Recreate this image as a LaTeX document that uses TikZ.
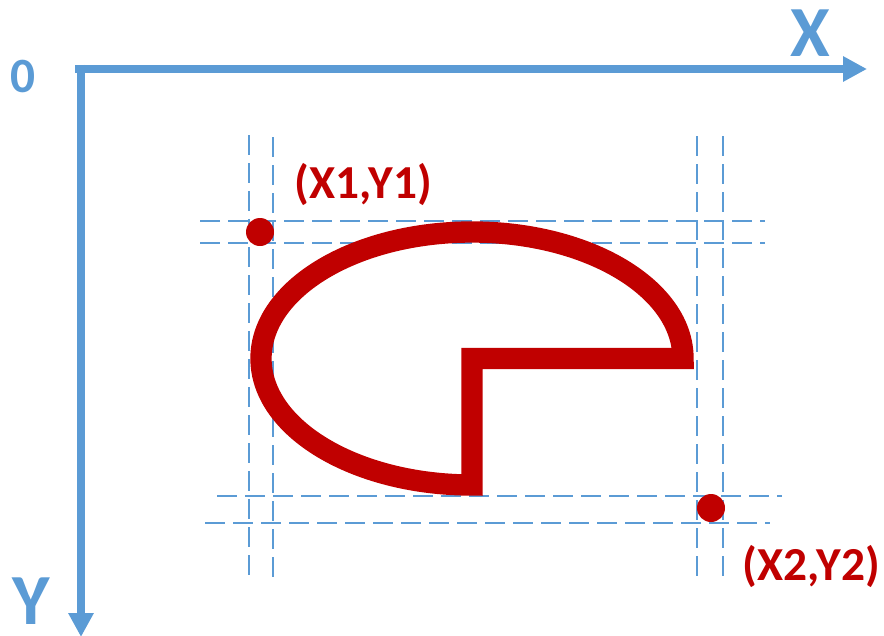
\documentclass[tikz,border=0pt]{standalone}
\usepackage{fontspec}
\setmainfont{Carlito}
\usetikzlibrary{arrows.meta}
\definecolor{axisblue}{HTML}{5B9BD5}
\definecolor{shapered}{HTML}{C00000}
\tikzset{
  axisline/.style={draw=axisblue, line width=6pt, -{Triangle[length=18pt,width=18pt]}},
  guide/.style={draw=axisblue, line width=2.1pt, dash pattern=on 15pt off 6pt},
  pieline/.style={draw=shapered, line width=16pt, miter limit=10, line join=miter},
  dotmark/.style={circle, fill=shapered, inner sep=0pt, minimum size=21pt},
  axislabel/.style={text=axisblue, inner sep=0pt, anchor=base, font=\fontsize{54}{60}\selectfont\bfseries},
  originlabel/.style={text=axisblue, inner sep=0pt, anchor=base, font=\fontsize{37}{42}\selectfont\bfseries},
  ptlabel/.style={text=shapered, inner sep=0pt, anchor=base, font=\fontsize{35.5}{40}\selectfont\bfseries}
}
\begin{document}
\begin{tikzpicture}[x=0.75pt,y=-0.75pt]
\useasboundingbox (0,0) rectangle (884,635);
% axes
\coordinate (ox) at (75,69);
\coordinate (xend) at (867,69);
\coordinate (oy) at (81,65);
\coordinate (yend) at (81,637);
\draw[axisline] (ox) -- (xend);
\draw[axisline] (oy) -- (yend);
\node[originlabel] (zero) at (23.5,93) {0};
\node[axislabel] (xlab) at (810,56) {X};
\node[axislabel] (ylab) at (31.5,624) {Y};
% guide lines
\draw[guide] (249,135) -- (249,577);
\draw[guide] (273,137) -- (273,578);
\draw[guide] (697,136) -- (697,578);
\draw[guide] (723,136) -- (723,578);
\draw[guide] (200,221) -- (765,221);
\draw[guide] (200,243) -- (765,243);
\draw[guide] (217,496) -- (782,496);
\draw[guide] (205,523) -- (770,523);
% pie shape
\coordinate (c) at (472,358.5);
\draw[pieline] (c) -- ++(211,0) arc[start angle=0, end angle=-270, x radius=211, y radius=126.5] -- cycle;
% points
\node[dotmark] (p1) at (260,232) {};
\node[dotmark] (p2) at (711,508) {};
\node[ptlabel] (l1) at (363,198) {(X1,Y1)};
\node[ptlabel] (l2) at (811.5,580) {(X2,Y2)};
\end{tikzpicture}
\end{document}
